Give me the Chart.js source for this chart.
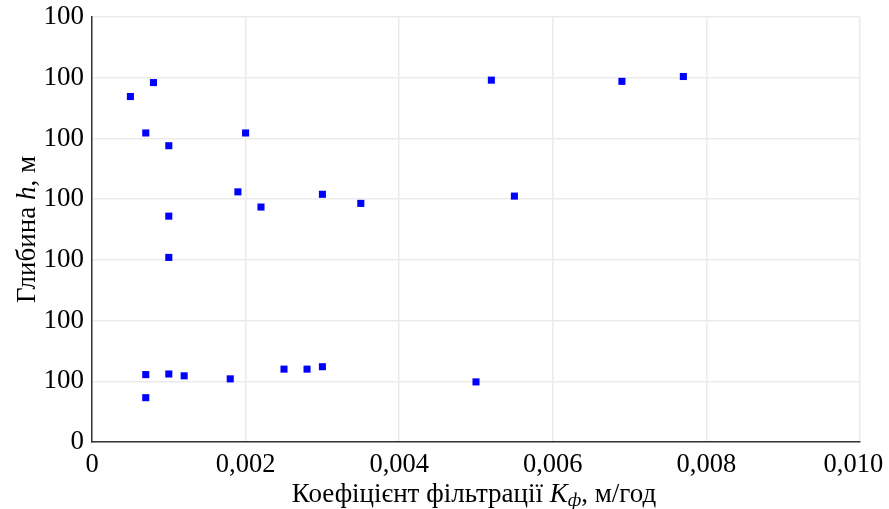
<!DOCTYPE html>
<html>
<head>
<meta charset="utf-8">
<script src="https://cdn.jsdelivr.net/npm/chart.js@4/dist/chart.umd.min.js"></script>
<style>
  html, body { margin: 0; padding: 0; background: #fff; }
  #wrap { width: 889px; height: 509px; position: relative; }
</style>
</head>
<body>
<div id="wrap"><canvas id="scatter"></canvas></div>
<script>
// Filtration coefficient K (m/h) and depth h (m)
const kValues = [0.0005, 0.0008, 0.0007, 0.001, 0.002, 0.0019, 0.0022, 0.001, 0.001,
                 0.0007, 0.001, 0.0012, 0.0018, 0.0007, 0.0025, 0.0028, 0.003, 0.005,
                 0.003, 0.0035, 0.0055, 0.0052, 0.0069, 0.0077];
const depthValues = [569, 592, 509, 488, 509, 412, 387, 372, 304,
                     111, 112, 109, 104, 73, 120, 120, 124, 99,
                     408, 393, 405, 596, 594, 602];

// tick labels exactly as printed on the original
const xTickLabels = ["0", "0,002", "0,004", "0,006", "0,008", "0,010"];
const yTickLabels = ["0", "100", "100", "100", "100", "100", "100", "100"];

const points = kValues.map((k, i) => ({ x: k, y: depthValues[i] }));
const FONT = "'Liberation Serif', 'Times New Roman', serif";

// axis titles with italic parts, drawn as text pieces
function drawPieces(ctx, pieces) {
    let total = 0;
    pieces.forEach(p => { ctx.font = p.font; p.w = ctx.measureText(p.t).width; total += p.w; });
    let x = -total / 2;
    pieces.forEach(p => {
        ctx.font = p.font;
        ctx.fillText(p.t, x, p.dy || 0);
        x += p.w;
    });
}

const axisTitles = {
    id: 'axisTitles',
    afterDraw(chart) {
        const ctx = chart.ctx;
        const area = chart.chartArea;
        ctx.save();
        ctx.fillStyle = '#000';
        ctx.textBaseline = 'alphabetic';
        // x title
        ctx.translate(474, 502);
        drawPieces(ctx, [
            { t: 'Коефіцієнт фільтрації ', font: '27px ' + FONT },
            { t: 'K', font: 'italic 27px ' + FONT },
            { t: 'ф', font: 'italic 19px ' + FONT, dy: 4 },
            { t: ', м/год', font: '27px ' + FONT }
        ]);
        ctx.restore();
        ctx.save();
        ctx.fillStyle = '#000';
        ctx.translate(35, (area.top + area.bottom) / 2);
        ctx.rotate(-Math.PI / 2);
        drawPieces(ctx, [
            { t: 'Глибина ', font: '27px ' + FONT },
            { t: 'h', font: 'italic 27px ' + FONT },
            { t: ', м', font: '27px ' + FONT }
        ]);
        ctx.restore();
    }
};

const ctx = document.getElementById('scatter').getContext('2d');
new Chart(ctx, {
    type: 'scatter',
    data: {
        datasets: [{
            data: points,
            pointStyle: 'rect',
            pointRadius: 5,
            pointBorderWidth: 0,
            backgroundColor: '#0000ff',
            borderColor: '#0000ff'
        }]
    },
    options: {
        responsive: true,
        maintainAspectRatio: false,
        animation: false,
        layout: { padding: { top: 17, right: 29, left: 0, bottom: 0 } },
        plugins: {
            legend: { display: false },
            tooltip: { enabled: false }
        },
        scales: {
            x: {
                type: 'linear',
                min: 0,
                max: 0.01,
                afterFit(scale) {
                    scale.height = 67;
                    scale.paddingLeft = 0;
                    scale.paddingRight = 0;
                },
                afterBuildTicks(scale) {
                    scale.ticks = xTickLabels.map((_, i) => ({ value: i * 0.002 }));
                },
                ticks: {
                    color: '#000',
                    font: { family: FONT, size: 26.5 },
                    padding: 7,
                    maxRotation: 0,
                    // last label sits a little left so it stays inside the picture
                    callback: (v, i) => i === xTickLabels.length - 1 ? xTickLabels[i] + '\u2002' : xTickLabels[i]
                },
                grid: { color: '#ebebeb', lineWidth: 1.5, drawTicks: false },
                border: { color: '#333', width: 1.5 }
            },
            y: {
                type: 'linear',
                min: 0,
                max: 700,
                afterFit(scale) {
                    scale.width = 92;
                    scale.paddingTop = 0;
                    scale.paddingBottom = 0;
                },
                afterBuildTicks(scale) {
                    scale.ticks = yTickLabels.map((_, i) => ({ value: i * 100 }));
                },
                ticks: {
                    color: '#000',
                    font: { family: FONT, size: 27 },
                    padding: 8,
                    callback: (v, i) => yTickLabels[i]
                },
                grid: { color: '#ebebeb', lineWidth: 1.5, drawTicks: false },
                border: { color: '#333', width: 1.5 }
            }
        }
    },
    plugins: [axisTitles]
});
</script>
</body>
</html>
